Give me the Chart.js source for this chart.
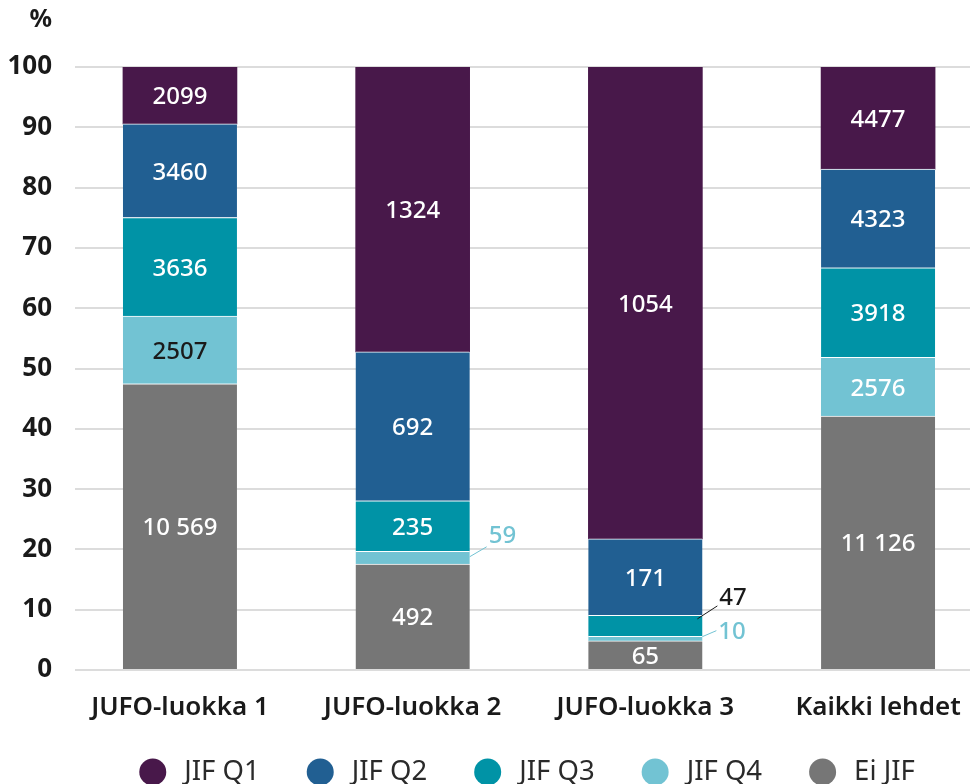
<!DOCTYPE html>
<html>
<head>
<meta charset="utf-8">
<script src="https://cdn.jsdelivr.net/npm/chart.js@4/dist/chart.umd.min.js"></script>
<style>
  html, body { margin: 0; padding: 0; background: #fff; overflow: hidden; }
  #wrap { width: 970px; height: 784px; }
</style>
</head>
<body>
<div id="wrap"><canvas id="chart"></canvas></div>
<script>
// --- data (counts per category; bar heights are shares of the column total) ---
const categories = ['JUFO-luokka 1', 'JUFO-luokka 2', 'JUFO-luokka 3', 'Kaikki lehdet'];
const eiJif = [10569, 492, 65, 11126];
const jifQ4 = [2507, 59, 10, 2576];
const jifQ3 = [3636, 235, 47, 3918];
const jifQ2 = [3460, 692, 171, 4323];
const jifQ1 = [2099, 1324, 1054, 4477];
const yTicks = [0, 10, 20, 30, 40, 50, 60, 70, 80, 90, 100];

const FONT = "'Noto Sans', sans-serif";
const INK = '#1a1a1a';

const totals = categories.map((_, i) => eiJif[i] + jifQ4[i] + jifQ3[i] + jifQ2[i] + jifQ1[i]);
const share = arr => arr.map((v, i) => ({ x: i, y: v / totals[i] * 100, n: v }));

// Finnish style: space as thousands separator from five digits up
const fmt = n => n >= 10000 ? String(n).replace(/\B(?=(\d{3})+(?!\d))/g, '\u00a0') : String(n);

// label styling for segments that differ from the default white centred text
const labelStyles = {
    'JIF Q4': {
        0: { color: INK },
        1: { color: '#72c3d3', leader: { from: [0, -1], to: [17, -11], text: [19, -22] } },
        2: { color: '#72c3d3', leader: { from: [0, -2], to: [14, -8], text: [16, -7] } }
    },
    'JIF Q3': {
        2: { color: INK, leaderColor: INK, leader: { from: [-5, -7], to: [15, -20], text: [17, -28] } }
    }
};

const segmentLabels = {
    id: 'segmentLabels',
    afterDatasetsDraw(chart) {
        const ctx = chart.ctx;
        ctx.save();
        ctx.font = `500 24px ${FONT}`;
        ctx.textBaseline = 'middle';
        chart.data.datasets.forEach((ds, di) => {
            const meta = chart.getDatasetMeta(di);
            meta.data.forEach((el, i) => {
                const st = (labelStyles[ds.label] || {})[i] || {};
                const text = fmt(ds.data[i].n);
                const midY = (el.y + el.base) / 2;
                ctx.fillStyle = st.color || '#fff';
                if (st.leader) {
                    const rx = el.x + el.width / 2;
                    const L = st.leader;
                    ctx.strokeStyle = st.leaderColor || st.color;
                    ctx.lineWidth = 1;
                    ctx.beginPath();
                    ctx.moveTo(rx + L.from[0], midY + L.from[1]);
                    ctx.lineTo(rx + L.to[0], midY + L.to[1]);
                    ctx.stroke();
                    ctx.textAlign = 'left';
                    ctx.fillText(text, rx + L.text[0], midY + L.text[1]);
                } else {
                    ctx.textAlign = 'center';
                    ctx.fillText(text, el.x, midY + 2);
                }
            });
        });
        ctx.restore();
    }
};

const extras = {
    id: 'extras',
    afterDraw(chart) {
        const ctx = chart.ctx;
        ctx.save();
        // unit label above the y axis
        ctx.font = `bold 25px ${FONT}`;
        ctx.fillStyle = INK;
        ctx.textAlign = 'right';
        ctx.textBaseline = 'middle';
        ctx.fillText('%', 52, 20);

        // legend, top series first
        const items = chart.data.datasets.slice().reverse();
        ctx.font = `400 27.5px ${FONT}`;
        const r = 13.5, gapText = 18, gapItem = 47;
        const widths = items.map(ds => 2 * r + gapText + ctx.measureText(ds.label).width);
        const total = widths.reduce((a, b) => a + b, 0) + gapItem * (items.length - 1);
        let x = 527 - total / 2;
        const cy = 772;
        items.forEach((ds, k) => {
            ctx.fillStyle = ds.backgroundColor;
            ctx.beginPath();
            ctx.arc(x + r, cy, r, 0, Math.PI * 2);
            ctx.fill();
            ctx.fillStyle = '#2a2a2a';
            ctx.textAlign = 'left';
            ctx.fillText(ds.label, x + 2 * r + gapText, cy);
            x += widths[k] + gapItem;
        });
        ctx.restore();
    }
};

const seg = (label, arr, color, topLine) => ({
    label,
    data: share(arr),
    backgroundColor: color,
    borderColor: '#fff',
    borderWidth: topLine ? { top: 1, right: 0, bottom: 0, left: 0 } : 0,
    borderSkipped: false,
    barThickness: 114
});

new Chart(document.getElementById('chart'), {
    type: 'bar',
    data: {
        datasets: [
            seg('Ei JIF', eiJif, '#767676', true),
            seg('JIF Q4', jifQ4, '#72c3d3', true),
            seg('JIF Q3', jifQ3, '#0093a6', true),
            seg('JIF Q2', jifQ2, '#215f92', true),
            seg('JIF Q1', jifQ1, '#48184a', false)
        ]
    },
    options: {
        responsive: true,
        maintainAspectRatio: false,
        animation: false,
        layout: { padding: { top: 67, right: 0, bottom: 58, left: 0 } },
        plugins: {
            legend: { display: false },
            tooltip: { enabled: false }
        },
        scales: {
            x: {
                type: 'linear',
                stacked: true,
                offset: false,
                min: -0.451,
                max: 3.395,
                grid: { display: false, offset: false },
                border: { display: false },
                afterBuildTicks: scale => { scale.ticks = categories.map((_, i) => ({ value: i })); },
                afterFit: scale => {
                    scale.height = 56;
                    scale.paddingLeft = 0;
                    scale.paddingRight = 0;
                },
                ticks: {
                    autoSkip: false,
                    maxRotation: 0,
                    padding: 14,
                    color: INK,
                    font: { family: FONT, size: 26, weight: 600 },
                    callback: v => categories[v]
                }
            },
            y: {
                stacked: true,
                min: 0,
                max: 100,
                grid: { color: '#dcdcdc', lineWidth: 2, drawTicks: false },
                border: { display: false },
                afterBuildTicks: scale => { scale.ticks = yTicks.map(v => ({ value: v })); },
                afterFit: scale => { scale.width = 75; },
                ticks: {
                    padding: 23,
                    color: INK,
                    font: { family: FONT, size: 26, weight: 'bold' }
                }
            }
        }
    },
    plugins: [segmentLabels, extras]
});
</script>
</body>
</html>
